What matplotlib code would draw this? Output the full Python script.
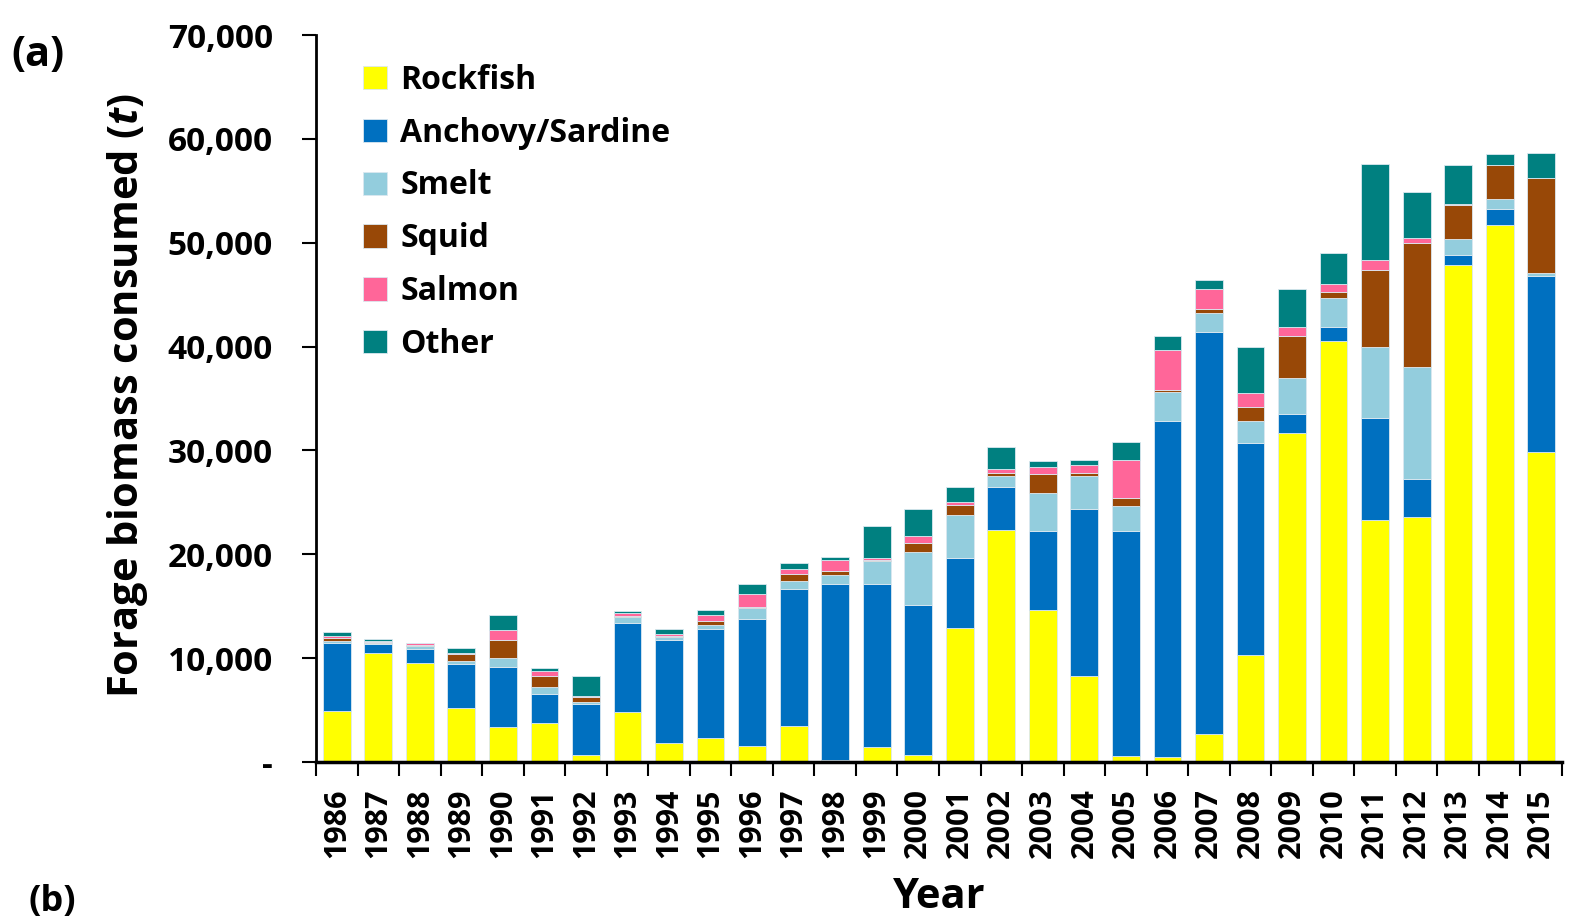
import numpy as np
import matplotlib
matplotlib.use("Agg")
import matplotlib.pyplot as plt
from matplotlib.ticker import FuncFormatter

plt.rcParams['font.family'] = ['Open Sans', 'DejaVu Sans']
plt.rcParams['font.weight'] = 'bold'
plt.rcParams['mathtext.fontset'] = 'custom'
plt.rcParams['mathtext.bfit'] = 'Open Sans:italic:bold'
plt.rcParams['mathtext.it'] = 'Open Sans:italic:bold'

# annual forage consumption by prey group (t)
years = list(range(1986, 2016))
rockfish = [4940, 10530, 9500, 5230, 3340, 3720, 670, 4780, 1800, 2310,
            1570, 3470, 220, 1480, 640, 12940, 22310, 14610, 8250, 550,
            450, 2730, 10310, 31640, 40550, 23270, 23580, 47900, 51670, 29870]
anchovy = [6550, 870, 1410, 4240, 5840, 2860, 4880, 8640, 9980, 10530,
           12230, 13220, 16890, 15630, 14480, 6710, 4170, 7660, 16110, 21720,
           32365, 38650, 20380, 1840, 1380, 9820, 3660, 940, 1530, 16890]
smelt = [160, 60, 260, 290, 810, 640, 200, 540, 260, 350,
         1030, 710, 930, 2280, 5100, 4170, 1060, 3630, 3150, 2350,
         2785, 1840, 2160, 3540, 2710, 6870, 10800, 1530, 980, 310]
squid = [320, 100, 60, 670, 1790, 1090, 510, 130, 130, 390,
         50, 730, 380, 100, 870, 930, 320, 1860, 350, 830,
         240, 440, 1300, 4000, 590, 7390, 11900, 3220, 3260, 9120]
salmon = [160, 50, 230, 50, 900, 450, 130, 260, 160, 580,
          1330, 490, 1030, 160, 640, 320, 390, 620, 740, 3630,
          3850, 1920, 1380, 910, 780, 940, 510, 160, 40, 0]
other = [360, 200, 0, 450, 1450, 320, 1860, 190, 450, 450,
         960, 540, 260, 3080, 2630, 1410, 2110, 640, 450, 1770,
         1370, 830, 4430, 3650, 2990, 9270, 4440, 3730, 1100, 2430]

series = [("Rockfish", rockfish, "#FFFF00"),
          ("Anchovy/Sardine", anchovy, "#0070C0"),
          ("Smelt", smelt, "#93CDDD"),
          ("Squid", squid, "#984807"),
          ("Salmon", salmon, "#FF6699"),
          ("Other", other, "#008080")]

fig = plt.figure(figsize=(15.75, 9.23), dpi=100)
ax = fig.add_axes([316 / 1575, 1 - 762 / 923, 1246 / 1575, 727 / 923])

x = np.arange(len(years))
bottom = np.zeros(len(years))
for name, vals, col in series:
    vals = np.array(vals, dtype=float)
    ax.bar(x, vals, 0.67, bottom=bottom, color=col, label=name,
           edgecolor="#dbe8f0", linewidth=0.6)
    bottom += vals

ax.set_xlim(-0.5, len(years) - 0.5)
ax.set_ylim(0, 70000)
ax.set_yticks(np.arange(0, 70001, 10000))
ax.yaxis.set_major_formatter(FuncFormatter(lambda v, p: "-" if v == 0 else f"{int(v):,}"))

ax.set_xticks(x)
ax.set_xticklabels([str(y) for y in years], rotation=90, fontsize=22, fontweight='bold')
ax.set_xticks(np.arange(-0.5, len(years)), minor=True)
ax.tick_params(axis='x', which='major', length=0, pad=19)
ax.tick_params(axis='x', which='minor', length=10, width=1.5, direction='out')
ax.tick_params(axis='y', length=10, width=1.5, direction='out', pad=21, labelsize=24)
for lab in ax.get_yticklabels():
    lab.set_fontweight('bold')

for s in ['top', 'right']:
    ax.spines[s].set_visible(False)
ax.spines['left'].set_linewidth(2)
ax.spines['bottom'].set_linewidth(2.5)

fig.text(128 / 1575, 1 - 395 / 923, r"Forage biomass consumed ($\mathit{t}$)",
         rotation=90, ha='center', va='center', fontsize=30, fontweight='bold')
fig.text(939 / 1575, 1 - 898 / 923, "Year", ha='center', va='center',
         fontsize=30, fontweight='bold')
fig.text(38 / 1575, 1 - 55 / 923, "(a)", ha='center', va='center',
         fontsize=30, fontweight='bold')
fig.text(52 / 1575, 1 - 902 / 923, "(b)", ha='center', va='center',
         fontsize=26, fontweight='bold')

leg = ax.legend(loc='upper left', bbox_to_anchor=(0.015, 1.0), frameon=False,
                fontsize=23, handlelength=0.75, handleheight=0.75,
                handletextpad=0.4, labelspacing=0.62)
for t in leg.get_texts():
    t.set_fontweight('bold')

fig.savefig("out.png", dpi=100)
